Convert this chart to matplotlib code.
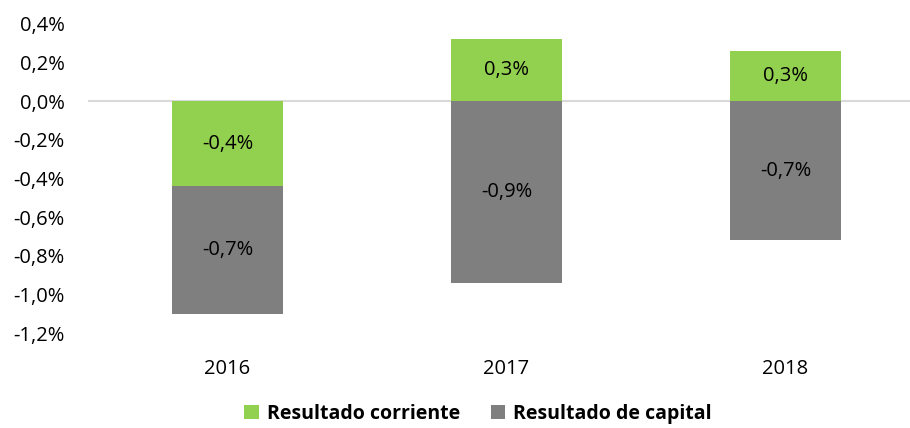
import matplotlib.pyplot as plt
from matplotlib.ticker import FuncFormatter

# datos
anios = ['2016', '2017', '2018']
corriente = [-0.44, 0.32, 0.26]
capital = [-0.66, -0.94, -0.72]

verde = '#92D050'
gris = '#7F7F7F'

plt.rcParams['font.family'] = ['Liberation Sans Narrow', 'Open Sans', 'DejaVu Sans']

fig = plt.figure(figsize=(9.1, 4.28), dpi=100)
ax = fig.add_axes([88 / 910, 1 - 333 / 428, (910 - 88) / 910, (333 - 24) / 428])

x = list(range(len(anios)))
ancho = 0.40

# apilado: capital empieza donde termina corriente si ambos son negativos
base_cap = [c if (c < 0 and k < 0) else 0 for c, k in zip(corriente, capital)]

ax.bar(x, corriente, ancho, color=verde, label='Resultado corriente', zorder=2)
ax.bar(x, capital, ancho, bottom=base_cap, color=gris, label='Resultado de capital', zorder=2)

def fmt(v):
    return f'{v:.1f}%'.replace('.', ',')

for i in x:
    ax.text(i, corriente[i] / 2, fmt(corriente[i]), ha='center', va='center', fontsize=14.5, color='black')
    ax.text(i, base_cap[i] + capital[i] / 2, fmt(capital[i]), ha='center', va='center', fontsize=14.5, color='black')

ax.set_ylim(-1.2, 0.4)
ax.set_yticks([0.4 - 0.2 * k for k in range(9)])
ax.yaxis.set_major_formatter(FuncFormatter(lambda v, p: fmt(v)))
ax.set_xlim(-0.5, 2.5 - 15 / 279)
ax.set_xticks(x)
ax.set_xticklabels(anios)
ax.axhline(0, color='#D9D9D9', lw=1.5, zorder=1)

for s in ax.spines.values():
    s.set_visible(False)
ax.tick_params(length=0, labelsize=14.5)
ax.tick_params(axis='y', pad=17)
ax.tick_params(axis='x', pad=19)

fig.legend(loc='center', bbox_to_anchor=(478 / 910, 1 - 414 / 428), ncol=2, frameon=False,
           prop={'weight': 'bold', 'size': 14}, handlelength=0.75, handleheight=0.75,
           handletextpad=0.4, columnspacing=1.6)

fig.savefig('out.png', dpi=100)
